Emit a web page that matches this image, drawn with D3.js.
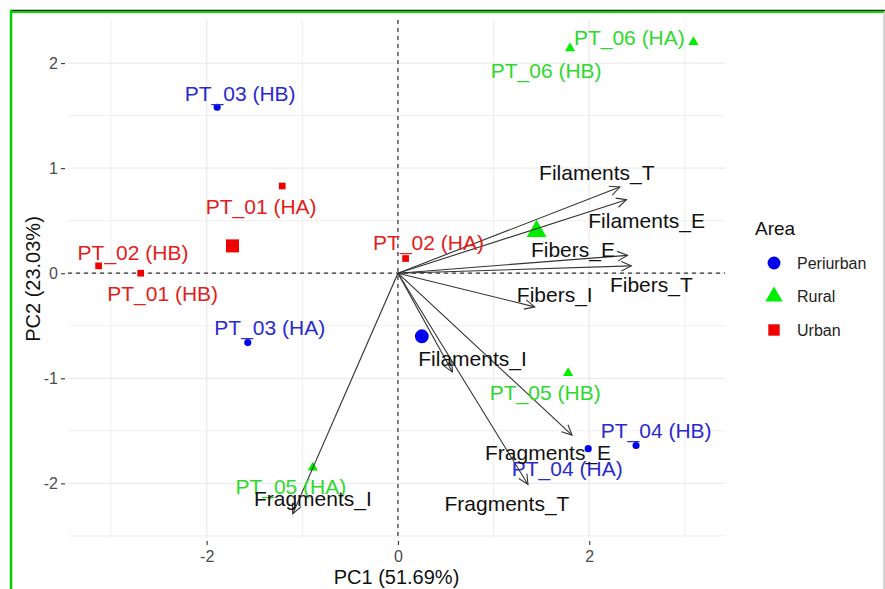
<!DOCTYPE html>
<html><head><meta charset="utf-8">
<script src="https://cdn.jsdelivr.net/npm/d3@7"></script>
<style>body{margin:0;background:#fff}svg{display:block}text{font-family:"Liberation Sans",Arial,sans-serif}</style>
</head><body><svg id="c" width="885" height="589"></svg>
<script>
// ---- data ----
const sampleNames = ["PT_03 (HB)","PT_01 (HA)","PT_02 (HB)","PT_01 (HB)","PT_03 (HA)","PT_02 (HA)","PT_06 (HB)","PT_06 (HA)","PT_05 (HB)","PT_04 (HB)","PT_04 (HA)","PT_05 (HA)"];
const sampleArea  = ["Periurban","Urban","Urban","Urban","Periurban","Urban","Rural","Rural","Rural","Periurban","Periurban","Rural"];
const samplePC1   = [-1.89,-1.21,-3.13,-2.69,-1.57,0.08,1.80,3.09,1.78,2.49,1.99,-0.89];
const samplePC2   = [1.58,0.83,0.07,0.00,-0.66,0.14,2.14,2.20,-0.95,-1.64,-1.67,-1.85];
const sampleLabelPC1 = [-1.65,-1.43,-2.77,-2.46,-1.34,0.32,1.55,2.42,1.54,2.70,1.77,-1.12];
const sampleLabelPC2 = [1.71,0.63,0.20,-0.19,-0.52,0.29,1.93,2.24,-1.14,-1.50,-1.86,-2.03];

const areas = ["Periurban","Rural","Urban"];
const areaColors = ["#0000ee","#00ee00","#ee0000"];
const areaTextColors = ["#2a2ad0","#2fd82f","#e32020"];
const centroidPC1 = [0.25,1.45,-1.73];
const centroidPC2 = [-0.60,0.40,0.26];

const varNames = ["Filaments_T","Filaments_E","Fibers_E","Fibers_T","Fibers_I","Filaments_I","Fragments_E","Fragments_T","Fragments_I"];
const varPC1 = [2.32,2.39,2.40,2.44,1.43,0.57,1.82,1.36,-1.10];
const varPC2 = [0.82,0.70,0.17,0.07,-0.32,-0.94,-1.54,-2.01,-2.29];
const varLabelPC1 = [2.08,2.60,1.83,2.65,1.64,0.78,1.57,1.14,-0.89];
const varLabelPC2 = [0.96,0.50,0.22,-0.11,-0.20,-0.81,-1.71,-2.19,-2.15];

const xTicks = [-2,0,2];
const xMinor = [-3,-1,1,3];
const yTicks = [-2,-1,0,1,2];
const yMinor = [-2.5,-1.5,-0.5,0.5,1.5];
const xTitle = "PC1 (51.69%)";
const yTitle = "PC2 (23.03%)";
const legendTitle = "Area";

// ---- layout ----
const svg = d3.select("#c");
const P = {l:68, r:725, t:20, b:538};
const x = d3.scaleLinear().domain([-3.45,3.42]).range([P.l,P.r]);
const y = d3.scaleLinear().domain([-2.52,2.41]).range([P.b,P.t]);

// frame
svg.append("line").attr("x1",10).attr("x2",885).attr("y1",10.5).attr("y2",10.5).attr("stroke","#0a2a0a").attr("stroke-width",1.5);
svg.append("line").attr("x1",10).attr("x2",884).attr("y1",12).attr("y2",12).attr("stroke","#00dd00").attr("stroke-width",2);
svg.append("line").attr("x1",11).attr("x2",11).attr("y1",10).attr("y2",589).attr("stroke","#00cc00").attr("stroke-width",2.5);
svg.append("line").attr("x1",884).attr("x2",884).attr("y1",12).attr("y2",589).attr("stroke","#aaaaaa").attr("stroke-width",1);

// grid
const g = svg.append("g");
const gridC = "#ebebeb";
xMinor.forEach(v=>g.append("line").attr("x1",x(v)).attr("x2",x(v)).attr("y1",P.t).attr("y2",P.b).attr("stroke",gridC).attr("stroke-width",0.8));
yMinor.forEach(v=>g.append("line").attr("y1",y(v)).attr("y2",y(v)).attr("x1",P.l).attr("x2",P.r).attr("stroke",gridC).attr("stroke-width",0.8));
xTicks.forEach(v=>g.append("line").attr("x1",x(v)).attr("x2",x(v)).attr("y1",P.t).attr("y2",P.b).attr("stroke",gridC).attr("stroke-width",1.3));
yTicks.forEach(v=>g.append("line").attr("y1",y(v)).attr("y2",y(v)).attr("x1",P.l).attr("x2",P.r).attr("stroke",gridC).attr("stroke-width",1.3));

// axes (d3 axes, styled)
const fmt = d => String(d);
const xa = svg.append("g").attr("transform",`translate(0,${P.b+3})`)
  .call(d3.axisBottom(x).tickValues(xTicks).tickSize(4).tickPadding(3).tickFormat(fmt));
const ya = svg.append("g").attr("transform",`translate(${P.l-3},0)`)
  .call(d3.axisLeft(y).tickValues(yTicks).tickSize(4).tickPadding(3).tickFormat(fmt));
[xa,ya].forEach(a=>{
  a.select(".domain").remove();
  a.selectAll(".tick line").attr("stroke","#444").attr("stroke-width",1.2);
  a.selectAll(".tick text").attr("fill","#4d4d4d").style("font-size","16px").style("font-family","Liberation Sans, Arial, sans-serif");
});
xa.selectAll(".tick text").attr("dy","0.9em");

svg.append("text").attr("x",(P.l+P.r)/2).attr("y",584).attr("text-anchor","middle")
  .style("font-size","20px").attr("fill","#111").text(xTitle);
svg.append("text").attr("transform",`translate(40,${(P.t+P.b)/2}) rotate(-90)`).attr("text-anchor","middle")
  .style("font-size","20px").attr("fill","#111").text(yTitle);

// reference lines
svg.append("line").attr("x1",x(0)).attr("x2",x(0)).attr("y1",P.t).attr("y2",P.b)
  .attr("stroke","#333").attr("stroke-width",1.2).attr("stroke-dasharray","4,4");
svg.append("line").attr("y1",y(0)).attr("y2",y(0)).attr("x1",P.l).attr("x2",P.r)
  .attr("stroke","#333").attr("stroke-width",1.2).attr("stroke-dasharray","4,4");

// symbols
const symFor = a => a==="Periurban"?d3.symbolCircle:(a==="Rural"?d3.symbolTriangle:d3.symbolSquare);
const colFor = a => areaColors[areas.indexOf(a)];
const txtFor = a => areaTextColors[areas.indexOf(a)];

// centroids
const cg = svg.append("g");
areas.forEach((a,i)=>{
  cg.append("path").attr("d",d3.symbol().type(symFor(a)).size(a==="Rural"?170:(a==="Urban"?170:150))())
    .attr("transform",`translate(${x(centroidPC1[i])},${y(centroidPC2[i])})`).attr("fill",areaColors[i]);
});

// sample points
const pg = svg.append("g");
sampleNames.forEach((n,i)=>{
  const a = sampleArea[i];
  pg.append("path").attr("d",d3.symbol().type(symFor(a)).size(a==="Rural"?45:(a==="Urban"?45:40))())
    .attr("transform",`translate(${x(samplePC1[i])},${y(samplePC2[i])})`).attr("fill",colFor(a));
});

// arrows
const ag = svg.append("g");
varNames.forEach((n,i)=>{
  const x0=x(0),y0=y(0),x1=x(varPC1[i]),y1=y(varPC2[i]);
  const ang=Math.atan2(y1-y0,x1-x0), L=11, h=Math.PI/7;
  ag.append("line").attr("x1",x0).attr("y1",y0).attr("x2",x1).attr("y2",y1).attr("stroke","#333").attr("stroke-width",1.1);
  ag.append("path").attr("d",`M${x1-L*Math.cos(ang-h)},${y1-L*Math.sin(ang-h)}L${x1},${y1}L${x1-L*Math.cos(ang+h)},${y1-L*Math.sin(ang+h)}`)
    .attr("fill","none").attr("stroke","#333").attr("stroke-width",1.1);
});

// sample labels
const lg = svg.append("g");
sampleNames.forEach((n,i)=>{
  lg.append("text").attr("x",x(sampleLabelPC1[i])).attr("y",y(sampleLabelPC2[i])).attr("dy","0.35em")
    .attr("text-anchor","middle").style("font-size","21px").attr("fill",txtFor(sampleArea[i])).text(n);
});
// variable labels
varNames.forEach((n,i)=>{
  lg.append("text").attr("x",x(varLabelPC1[i])).attr("y",y(varLabelPC2[i])).attr("dy","0.35em")
    .attr("text-anchor","middle").style("font-size","21px").attr("fill","#111").text(n);
});

// legend
const leg = svg.append("g");
leg.append("text").attr("x",755).attr("y",228).attr("dy","0.35em").style("font-size","19px").attr("fill","#111").text(legendTitle);
const legY = d3.scalePoint().domain(areas).range([263,330]);
areas.forEach((a,i)=>{
  leg.append("path").attr("d",d3.symbol().type(symFor(a)).size(130)())
    .attr("transform",`translate(774,${legY(a)})`).attr("fill",areaColors[i]);
  leg.append("text").attr("x",797).attr("y",legY(a)).attr("dy","0.35em").style("font-size","16px").attr("fill","#222").text(a);
});
</script></body></html>
